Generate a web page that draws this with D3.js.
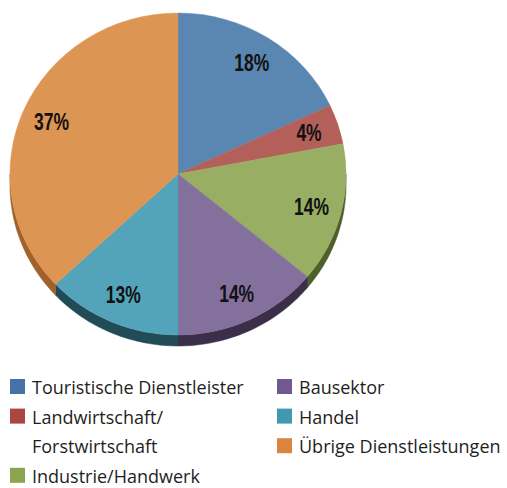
<!DOCTYPE html>
<html>
<head>
<meta charset="utf-8">
<script src="https://cdn.jsdelivr.net/npm/d3@7"></script>
<style>
  html, body { margin: 0; padding: 0; background: #ffffff; }
  svg { display: block; }
</style>
</head>
<body>
<svg id="chart" width="507" height="488"></svg>
<script>
// Sector shares (percent)
const categories = [
  "Touristische Dienstleister",
  "Landwirtschaft/ Forstwirtschaft",
  "Industrie/Handwerk",
  "Bausektor",
  "Handel",
  "Übrige Dienstleistungen"
];
const values = [18, 4, 14, 14, 13, 37];
const valueLabels = ["18%", "4%", "14%", "14%", "13%", "37%"];

// Legend layout: column, row and text lines per category
const legendLines = [
  ["Touristische Dienstleister"],
  ["Landwirtschaft/", "Forstwirtschaft"],
  ["Industrie/Handwerk"],
  ["Bausektor"],
  ["Handel"],
  ["Übrige Dienstleistungen"]
];
const legendCol = [0, 0, 0, 1, 1, 1];
const legendRow = [0, 1, 3, 0, 1, 2];

const faceColors = ["#5a86b2", "#b4605a", "#98ae62", "#83709d", "#53a4ba", "#dd9553"];
const sideColors = ["#2e4a66", "#6a302c", "#4e5f28", "#3b2e49", "#214c57", "#a1612b"];
const legendColors = ["#4572a7", "#aa4643", "#89a54e", "#71588f", "#4198af", "#db843d"];

const svg = d3.select("#chart");

// Tilted pie geometry
const cx = 178, cy = 174, rx = 168, ry = 161, depth = 11;

const pie = d3.pie().sort(null).value(d => d)(values);

// Point on the elliptical rim at angle a (clockwise from 12 o'clock)
const rimX = a => cx + rx * Math.sin(a);
const rimY = a => cy - ry * Math.cos(a);

// Side walls: only the front half (angles between PI/2 and 3PI/2) is visible
const sideG = svg.append("g");
pie.forEach((p, i) => {
  const a0 = Math.max(p.startAngle, Math.PI / 2);
  const a1 = Math.min(p.endAngle, 3 * Math.PI / 2);
  if (a1 <= a0) return;
  const steps = d3.range(0, 41).map(k => a0 + (a1 - a0) * k / 40);
  const top = steps.map(a => [rimX(a), rimY(a)]);
  const bottom = steps.slice().reverse().map(a => [rimX(a), rimY(a) + depth]);
  sideG.append("path")
    .attr("d", d3.line()(top.concat(bottom)) + "Z")
    .attr("fill", sideColors[i])
    .attr("stroke", sideColors[i])
    .attr("stroke-width", 0.5);
});

// Top face
const arc = d3.arc().innerRadius(0).outerRadius(rx);
const faceG = svg.append("g")
  .attr("transform", `translate(${cx},${cy}) scale(1,${ry / rx})`);
faceG.selectAll("path")
  .data(pie)
  .enter().append("path")
  .attr("d", arc)
  .attr("fill", (d, i) => faceColors[i])
  .attr("stroke", (d, i) => faceColors[i])
  .attr("stroke-width", 0.5);

// Value labels (bold, horizontally condensed)
const labelR = 0.82;
svg.append("g").selectAll("text")
  .data(pie)
  .enter().append("text")
  .attr("transform", d => {
    const m = (d.startAngle + d.endAngle) / 2;
    const x = cx + labelR * rx * Math.sin(m);
    const y = cy - labelR * ry * Math.cos(m);
    return `translate(${x},${y}) scale(0.76,1)`;
  })
  .attr("dy", "0.36em")
  .attr("text-anchor", "middle")
  .attr("font-family", "'Liberation Sans', Arial, sans-serif")
  .attr("font-weight", "bold")
  .attr("font-size", 23)
  .attr("fill", "#111111")
  .text((d, i) => valueLabels[i]);

// Legend
const colX = [10, 277];
const rowY = d3.scaleLinear().domain([0, 1]).range([394, 423.6]);
const legend = svg.append("g");
categories.forEach((c, i) => {
  const x = colX[legendCol[i]];
  const y = rowY(legendRow[i]);
  legend.append("rect")
    .attr("x", x).attr("y", y - 15)
    .attr("width", 15).attr("height", 15)
    .attr("fill", legendColors[i]);
  legendLines[i].forEach((line, j) => {
    legend.append("text")
      .attr("x", x + 22)
      .attr("y", rowY(legendRow[i] + j))
      .attr("font-family", "'Open Sans', sans-serif")
      .attr("font-size", 18)
      .attr("fill", "#1e1e1e")
      .text(line);
  });
});
</script>
</body>
</html>
